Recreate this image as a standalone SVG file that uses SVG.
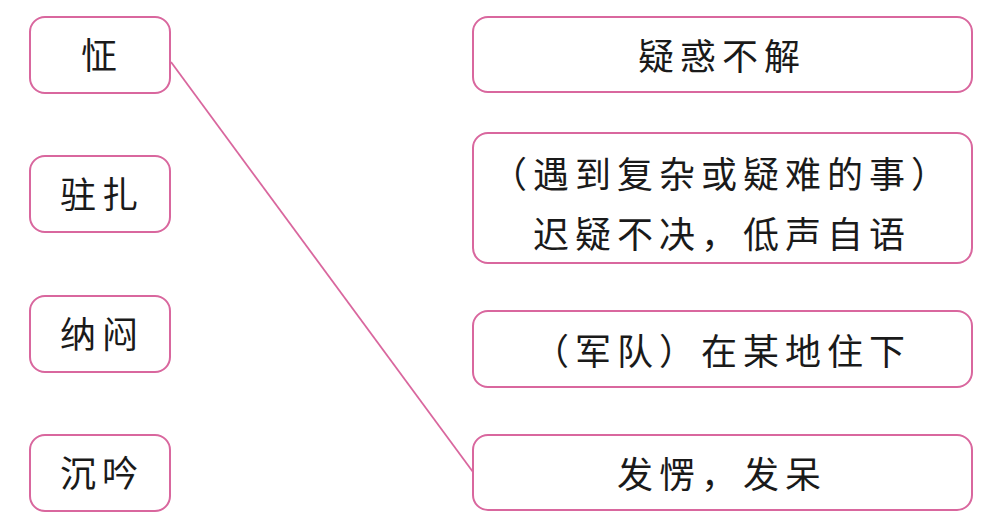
<svg xmlns="http://www.w3.org/2000/svg" width="1002" height="522" viewBox="0 0 1002 522">
<style>
.box{fill:#fff;stroke:#d9679e;stroke-width:2}
.t{font-family:"Noto Sans CJK SC","Noto Sans CJK JP",sans-serif;font-size:36px;fill:#1a1a1a;text-anchor:middle;dominant-baseline:central;letter-spacing:6px}
.c{stroke:#d9679e;stroke-width:1.8;fill:none}
</style>
<rect width="1002" height="522" fill="#fff"/>
<g id="connectors">
<line class="c" x1="171" y1="62" x2="473" y2="472"/>
</g>
<g id="l1"><rect class="box" x="30" y="17" width="140" height="76" rx="15"/><text class="t" x="102" y="53">怔</text></g>
<g id="l2"><rect class="box" x="30" y="156" width="140" height="76" rx="15"/><text class="t" x="102" y="192">驻扎</text></g>
<g id="l3"><rect class="box" x="30" y="296" width="140" height="76" rx="15"/><text class="t" x="102" y="332">纳闷</text></g>
<g id="l4"><rect class="box" x="30" y="435" width="140" height="76" rx="15"/><text class="t" x="102" y="471">沉吟</text></g>
<g id="r1"><rect class="box" x="473" y="17" width="499" height="75" rx="15"/><text class="t" x="722" y="54">疑惑不解</text></g>
<g id="r2"><rect class="box" x="473" y="133" width="499" height="130" rx="15"/><text class="t" x="722" y="172">（遇到复杂或疑难的事）</text><text class="t" x="722" y="232">迟疑不决，低声自语</text></g>
<g id="r3"><rect class="box" x="473" y="311" width="499" height="76" rx="15"/><text class="t" x="722" y="349">（军队）在某地住下</text></g>
<g id="r4"><rect class="box" x="473" y="435" width="499" height="75" rx="15"/><text class="t" x="722" y="472">发愣，发呆</text></g>
</svg>
